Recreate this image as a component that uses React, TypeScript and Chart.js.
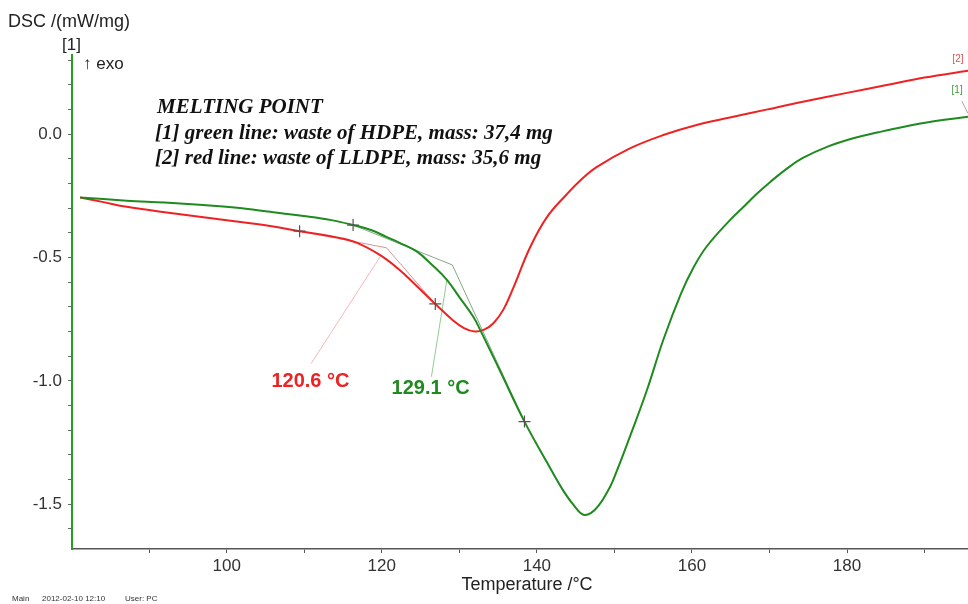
import React, { useEffect, useRef } from "react";
import { Chart, registerables } from "chart.js";

Chart.register(...registerables);

// ---- Data (temperature °C, DSC mW/mg) ----
const RED_T = [81.1, 84.1, 87.1, 92.0, 97.0, 101.0, 105.6, 109.4, 114.2, 116.8, 119.8, 122.3, 124.0, 126.9, 129.2, 130.6, 132.0, 133.2, 134.4, 135.7, 137.0, 139.1, 141.3, 143.8, 145.5, 147.7, 152.0, 156.3, 160.6, 164.9, 169.6, 174.3, 180.0, 185.1, 190.0, 195.6];
const RED_V = [-0.256, -0.275, -0.294, -0.316, -0.336, -0.353, -0.372, -0.393, -0.418, -0.44, -0.49, -0.55, -0.6, -0.688, -0.755, -0.786, -0.8, -0.792, -0.766, -0.71, -0.62, -0.46, -0.336, -0.245, -0.19, -0.133, -0.057, -0.003, 0.038, 0.068, 0.1, 0.132, 0.168, 0.2, 0.23, 0.258];

const GREEN_T = [81.1, 87.1, 92.0, 97.0, 101.0, 105.6, 109.9, 113.5, 116.3, 118.6, 120.6, 122.3, 124.5, 126.5, 128.4, 130.0, 131.8, 132.7, 135.2, 138.4, 141.3, 143.4, 144.9, 146.0, 147.0, 148.1, 149.0, 149.8, 152.0, 154.2, 156.3, 158.6, 160.2, 161.9, 164.9, 166.6, 168.3, 170.1, 172.2, 174.3, 177.5, 180.8, 184.0, 187.2, 191.0, 195.6];
const GREEN_V = [-0.256, -0.269, -0.277, -0.287, -0.297, -0.314, -0.331, -0.348, -0.368, -0.388, -0.416, -0.44, -0.475, -0.53, -0.59, -0.66, -0.74, -0.794, -0.956, -1.165, -1.33, -1.445, -1.51, -1.543, -1.535, -1.5, -1.455, -1.405, -1.226, -1.037, -0.834, -0.645, -0.54, -0.455, -0.348, -0.296, -0.243, -0.193, -0.14, -0.096, -0.05, -0.016, 0.008, 0.03, 0.052, 0.071];

// Evaluation markers (+)
const MARK_T = [109.4, 126.9, 116.3, 138.4];
const MARK_V = [-0.393, -0.688, -0.368, -1.165];

// Onset constructions: baseline point, onset, tangent end
const RED_CONS_T = [109.4, 120.6, 126.9];
const RED_CONS_V = [-0.393, -0.46, -0.688];
const GREEN_CONS_T = [116.3, 129.1, 138.4];
const GREEN_CONS_V = [-0.368, -0.53, -1.165];

// Leader lines to the onset labels
const RED_LEADER_T = [119.8, 110.9];
const RED_LEADER_V = [-0.496, -0.929];
const GREEN_LEADER_T = [128.4, 126.4];
const GREEN_LEADER_V = [-0.59, -0.983];
const CURVE1_LEADER_T = [194.8, 195.6];
const CURVE1_LEADER_V = [0.135, 0.085];

// Label anchors (data units)
const RED_LABEL = { t: 110.8, v: -1.004, text: "120.6 °C" };
const GREEN_LABEL = { t: 126.3, v: -1.029, text: "129.1 °C" };
const CURVE2_TAG = { t: 194.3, v: 0.305, text: "[2]" };
const CURVE1_TAG = { t: 194.2, v: 0.178, text: "[1]" };

// Axes
const X_MIN = 80.05;
const X_MAX = 195.6;
const Y_MIN = -1.6817;
const Y_MAX = 0.3216;
const X_TICKS = [90, 100, 110, 120, 130, 140, 150, 160, 170, 180, 190];
const X_LABELS = [100, 120, 140, 160, 180];
const Y_TICKS = [-1.6, -1.5, -1.4, -1.3, -1.2, -1.1, -1.0, -0.9, -0.8, -0.7, -0.6, -0.5, -0.4, -0.3, -0.2, -0.1, 0.0, 0.1, 0.2, 0.3];
const Y_LABELS = [0.0, -0.5, -1.0, -1.5];

const TITLE_LINES = [
  "MELTING POINT",
  "[1] green line: waste of HDPE, mass: 37,4 mg",
  "[2] red line: waste of LLDPE, mass: 35,6 mg",
];

const RED = "#ee2222";
const GREEN = "#1f8a1f";
const SANS = '"Liberation Sans", Arial, sans-serif';

const zip = (xs: number[], ys: number[]) => xs.map((x, i) => ({ x, y: ys[i] }));

const textPlugin = {
  id: "dscTexts",
  afterDraw(chart: any) {
    const ctx = chart.ctx as CanvasRenderingContext2D;
    const xs = chart.scales.x;
    const ys = chart.scales.y;
    ctx.save();
    ctx.textBaseline = "alphabetic";
    ctx.fillStyle = "#222";
    ctx.textAlign = "left";
    ctx.font = `18px ${SANS}`;
    ctx.fillText("DSC /(mW/mg)", 8, 27);
    ctx.font = `17px ${SANS}`;
    ctx.fillText("[1]", 62, 50);
    ctx.fillText("\u2191 exo", 83, 69);
    ctx.font = `18px ${SANS}`;
    ctx.textAlign = "center";
    ctx.fillText("Temperature /°C", 527, 590);

    // footer
    ctx.textAlign = "left";
    ctx.font = `8px ${SANS}`;
    ctx.fillStyle = "#333";
    ctx.fillText("Main", 12, 601);
    ctx.fillText("2012-02-10 12:10", 42, 601);
    ctx.fillText("User: PC", 125, 601);

    // annotation block
    ctx.fillStyle = "#111";
    ctx.font = `italic bold 21px "Liberation Serif", "Times New Roman", serif`;
    const baselines = [113, 139, 164];
    TITLE_LINES.forEach((l, i) => ctx.fillText(l, i === 0 ? 157 : 155, baselines[i]));

    // onset labels
    ctx.textAlign = "center";
    ctx.textBaseline = "middle";
    ctx.font = `bold 20px ${SANS}`;
    ctx.fillStyle = RED;
    ctx.fillText(RED_LABEL.text, xs.getPixelForValue(RED_LABEL.t), ys.getPixelForValue(RED_LABEL.v));
    ctx.fillStyle = GREEN;
    ctx.fillText(GREEN_LABEL.text, xs.getPixelForValue(GREEN_LABEL.t), ys.getPixelForValue(GREEN_LABEL.v));

    // curve tags
    ctx.font = `10px ${SANS}`;
    ctx.fillStyle = "#e05050";
    ctx.fillText(CURVE2_TAG.text, xs.getPixelForValue(CURVE2_TAG.t), ys.getPixelForValue(CURVE2_TAG.v));
    ctx.fillStyle = "#3a9a3a";
    ctx.fillText(CURVE1_TAG.text, xs.getPixelForValue(CURVE1_TAG.t), ys.getPixelForValue(CURVE1_TAG.v));
    ctx.restore();
  },
};

const thin = (color: string, width = 1) => ({
  showLine: true,
  borderColor: color,
  borderWidth: width,
  pointRadius: 0,
  tension: 0,
  fill: false,
});

const curve = (color: string) => ({
  showLine: true,
  borderColor: color,
  borderWidth: 2,
  pointRadius: 0,
  tension: 0.4,
  fill: false,
});

export default function App() {
  const ref = useRef<HTMLCanvasElement | null>(null);

  useEffect(() => {
    if (!ref.current) return;
    const chart = new Chart(ref.current, {
      type: "scatter",
      data: {
        datasets: [
          {
            label: "markers",
            data: zip(MARK_T, MARK_V),
            pointStyle: "cross",
            pointRadius: 6,
            pointBorderWidth: 1.2,
            borderColor: "#555",
            backgroundColor: "#555",
            showLine: false,
          } as any,
          { label: "[1] HDPE", data: zip(GREEN_T, GREEN_V), ...curve(GREEN) } as any,
          { label: "[2] LLDPE", data: zip(RED_T, RED_V), ...curve(RED) } as any,
          { label: "green onset", data: zip(GREEN_CONS_T, GREEN_CONS_V), ...thin("rgba(110,150,110,0.85)") } as any,
          { label: "red onset", data: zip(RED_CONS_T, RED_CONS_V), ...thin("rgba(205,130,130,0.85)") } as any,
          { label: "green leader", data: zip(GREEN_LEADER_T, GREEN_LEADER_V), ...thin("rgba(120,190,120,0.8)") } as any,
          { label: "red leader", data: zip(RED_LEADER_T, RED_LEADER_V), ...thin("rgba(245,170,170,0.85)") } as any,
          { label: "tag leader", data: zip(CURVE1_LEADER_T, CURVE1_LEADER_V), ...thin("rgba(160,160,160,0.9)") } as any,
        ],
      },
      options: {
        animation: false,
        responsive: false,
        maintainAspectRatio: false,
        layout: { autoPadding: false, padding: { top: 55, left: 0, right: 0, bottom: 0 } },
        plugins: { legend: { display: false }, tooltip: { enabled: false } },
        scales: {
          x: {
            type: "linear",
            min: X_MIN,
            max: X_MAX,
            afterBuildTicks: (s: any) => {
              s.ticks = X_TICKS.map((value) => ({ value }));
            },
            afterFit: (s: any) => {
              s.height = 55;
              s.paddingLeft = 0;
              s.paddingRight = 0;
            },
            ticks: {
              autoSkip: false,
              maxRotation: 0,
              padding: 3,
              color: "#333",
              font: { family: SANS, size: 17 },
              callback: (v: any) => (X_LABELS.includes(Number(v)) ? String(v) : ""),
            },
            grid: { drawOnChartArea: false, tickLength: 4, color: "#555" },
            border: { color: "#555", width: 1.5 },
          },
          y: {
            type: "linear",
            min: Y_MIN,
            max: Y_MAX,
            afterBuildTicks: (s: any) => {
              s.ticks = Y_TICKS.map((value) => ({ value }));
            },
            afterFit: (s: any) => {
              s.width = 72;
              s.paddingTop = 0;
              s.paddingBottom = 0;
            },
            ticks: {
              autoSkip: false,
              padding: 6,
              color: "#333",
              font: { family: SANS, size: 17 },
              callback: (v: any) => {
                const n = Number(v);
                return Y_LABELS.some((l) => Math.abs(l - n) < 1e-6) ? n.toFixed(1) : "";
              },
            },
            grid: { drawOnChartArea: false, tickLength: 4, color: "#666" },
            border: { color: "#22a022", width: 2 },
          },
        },
      },
      plugins: [textPlugin],
    });
    return () => chart.destroy();
  }, []);

  return (
    <div style={{ position: "absolute", left: 0, top: 0, width: 968, height: 604, background: "#fff" }}>
      <canvas ref={ref} width={968} height={604} />
    </div>
  );
}
